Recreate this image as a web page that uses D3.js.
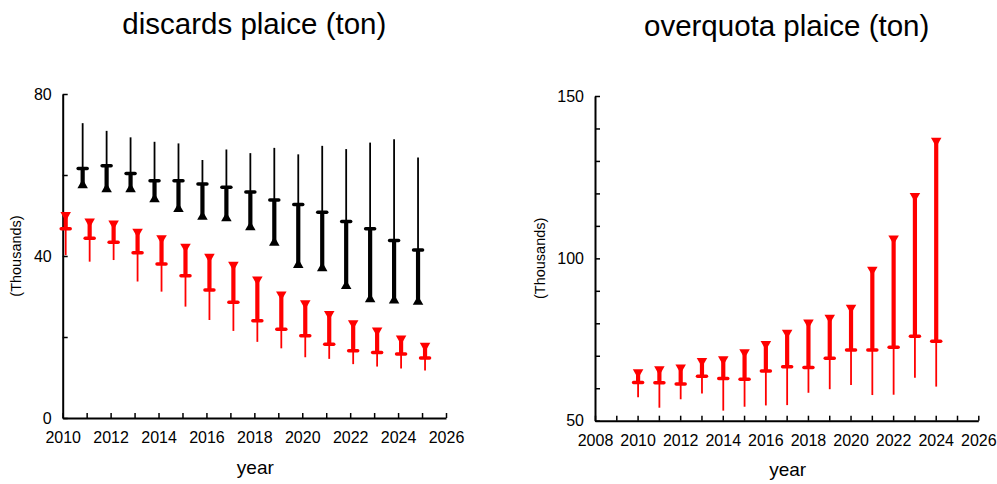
<!DOCTYPE html>
<html>
<head>
<meta charset="utf-8">
<script src="https://cdn.jsdelivr.net/npm/d3@7"></script>
<style>
body { margin: 0; background: #fff; }
svg text { font-family: "Liberation Sans", Arial, sans-serif; fill: #000; }
</style>
</head>
<body>
<script>
// discards plaice (thousand tonnes)
var discYears = [2010, 2011, 2012, 2013, 2014, 2015, 2016, 2017, 2018, 2019, 2020, 2021, 2022, 2023, 2024, 2025];
var blackYears = [2011, 2012, 2013, 2014, 2015, 2016, 2017, 2018, 2019, 2020, 2021, 2022, 2023, 2024, 2025];
var blackHigh = [72.8, 70.9, 69.3, 68.2, 67.8, 63.7, 66.3, 65.4, 66.7, 65.1, 67.2, 66.4, 68.0, 68.8, 64.3];
var blackMed  = [61.6, 62.3, 60.4, 58.6, 58.6, 57.8, 57.0, 55.8, 53.8, 52.7, 50.8, 48.5, 46.7, 43.8, 41.5];
var blackLow  = [57.5, 56.5, 56.5, 54.0, 51.6, 49.7, 49.3, 47.1, 43.3, 37.8, 37.0, 32.6, 29.3, 29.0, 28.7];
var redHigh = [50.1, 48.5, 48.0, 46.0, 44.4, 42.3, 39.8, 37.8, 34.2, 30.5, 28.3, 25.7, 23.4, 21.6, 19.6, 17.8];
var redMed  = [46.7, 44.4, 43.4, 40.8, 38.0, 35.1, 31.6, 28.6, 24.0, 21.9, 20.3, 18.2, 16.6, 16.2, 15.8, 14.8];
var redLow  = [40.2, 38.6, 39.0, 33.7, 31.2, 27.5, 24.2, 21.5, 18.8, 17.2, 15.0, 14.6, 13.3, 12.7, 12.2, 11.7];

// overquota plaice (thousand tonnes)
var oqYears = [2010, 2011, 2012, 2013, 2014, 2015, 2016, 2017, 2018, 2019, 2020, 2021, 2022, 2023, 2024];
var oqHigh = [64.9, 65.8, 66.4, 68.4, 68.9, 71.1, 73.6, 77.1, 80.2, 81.7, 84.8, 96.5, 106.1, 119.2, 136.2];
var oqMed  = [61.8, 61.7, 61.3, 63.7, 63.0, 62.8, 65.3, 66.6, 66.4, 69.2, 71.8, 71.8, 72.6, 76.0, 74.5];
var oqLow  = [57.2, 54.0, 56.6, 58.4, 53.1, 54.3, 54.7, 54.8, 58.6, 59.7, 61.0, 57.9, 58.0, 63.2, 60.5];

var W = 997, H = 484;
var svg = d3.select("body").append("svg").attr("width", W).attr("height", H);

function panel(opt) {
	var x = d3.scaleLinear().domain(opt.xDomain).range(opt.xRange);
	var y = d3.scaleLinear().domain(opt.yDomain).range(opt.yRange);

	var g = svg.append("g");

	var xAxis = d3.axisBottom(x)
		.tickValues(d3.range(opt.xDomain[0], opt.xDomain[1] + 1, 1))
		.tickFormat(function(d){ return d % 2 == 0 ? d : ""; })
		.tickSize(-5).tickSizeOuter(0).tickPadding(14);
	var yAxis = d3.axisLeft(y)
		.tickValues(d3.range(opt.yDomain[0], opt.yDomain[1] + 0.1, opt.yStep))
		.tickFormat(function(d){ return (d - opt.yDomain[0]) % opt.yLabelStep == 0 ? d : ""; })
		.tickSize(-5).tickSizeOuter(0).tickPadding(11);

	var gx = g.append("g").attr("transform", "translate(0," + opt.yRange[0] + ")").call(xAxis);
	var gy = g.append("g").attr("transform", "translate(" + opt.xRange[0] + ",0)").call(yAxis);
	[gx, gy].forEach(function(a){
		a.select(".domain").attr("stroke-width", 2);
		a.selectAll(".tick line").attr("stroke-width", 1.5);
		a.selectAll("text").attr("font-size", 16).attr("font-family", "Liberation Sans, Arial, sans-serif");
	});

	var cx = (opt.xRange[0] + opt.xRange[1]) / 2;
	g.append("text").attr("x", cx).attr("y", opt.titleY).attr("text-anchor", "middle")
		.attr("font-size", 29.5).text(opt.title);
	g.append("text").attr("x", cx + 1).attr("y", opt.yRange[0] + 55.5).attr("text-anchor", "middle")
		.attr("font-size", 19).text("year");
	var my = (opt.yRange[0] + opt.yRange[1]) / 2;
	g.append("text").attr("transform", "translate(" + opt.ylabX + "," + my + ") rotate(-90)")
		.attr("text-anchor", "middle").attr("font-size", 14.5).text("(Thousands)");

	return { g: g, x: x, y: y };
}

// one whisker glyph: thin line between whisker end and median, thick box between median and triangle
function glyphs(p, years, tri, med, whisk, color, dx, triUp) {
	var grp = p.g.append("g").attr("fill", color).attr("stroke", color);
	var idx = d3.range(years.length);
	function px(i){ return p.x(years[i]) + dx; }

	grp.selectAll(".thin").data(idx).enter().append("line")
		.attr("x1", px).attr("x2", px)
		.attr("y1", function(i){ return p.y(whisk[i]); })
		.attr("y2", function(i){ return p.y(med[i]); })
		.attr("stroke-width", 1.8);
	grp.selectAll(".thick").data(idx).enter().append("line")
		.attr("x1", px).attr("x2", px)
		.attr("y1", function(i){ return p.y(med[i]); })
		.attr("y2", function(i){ return p.y(tri[i]); })
		.attr("stroke-width", 4.2);
	grp.selectAll(".med").data(idx).enter().append("line")
		.attr("x1", function(i){ return px(i) - 4.5; })
		.attr("x2", function(i){ return px(i) + 4.5; })
		.attr("y1", function(i){ return p.y(med[i]); })
		.attr("y2", function(i){ return p.y(med[i]); })
		.attr("stroke-width", 3.5).attr("stroke-linecap", "round");
	var sym = d3.symbol().type(d3.symbolTriangle).size(48);
	grp.selectAll(".tri").data(idx).enter().append("path")
		.attr("d", sym)
		.attr("stroke", "none")
		.attr("transform", function(i){
			return "translate(" + px(i) + "," + p.y(tri[i]) + ")" + (triUp ? "" : " rotate(180)");
		});
}

var left = panel({
	xDomain: [2010, 2026], xRange: [62.7, 446],
	yDomain: [0, 80], yRange: [418, 94], yStep: 20, yLabelStep: 40,
	title: "discards plaice (ton)", titleY: 34, ylabX: 21
});
glyphs(left, blackYears, blackLow, blackMed, blackHigh, "#000", -4, true);
glyphs(left, discYears, redHigh, redMed, redLow, "#ff0000", 3, false);

var right = panel({
	xDomain: [2008, 2026], xRange: [595, 978.3],
	yDomain: [50, 150], yRange: [420.7, 96], yStep: 10, yLabelStep: 50,
	title: "overquota plaice (ton)", titleY: 36, ylabX: 545
});
glyphs(right, oqYears, oqHigh, oqMed, oqLow, "#ff0000", 0.5, false);
</script>
</body>
</html>
